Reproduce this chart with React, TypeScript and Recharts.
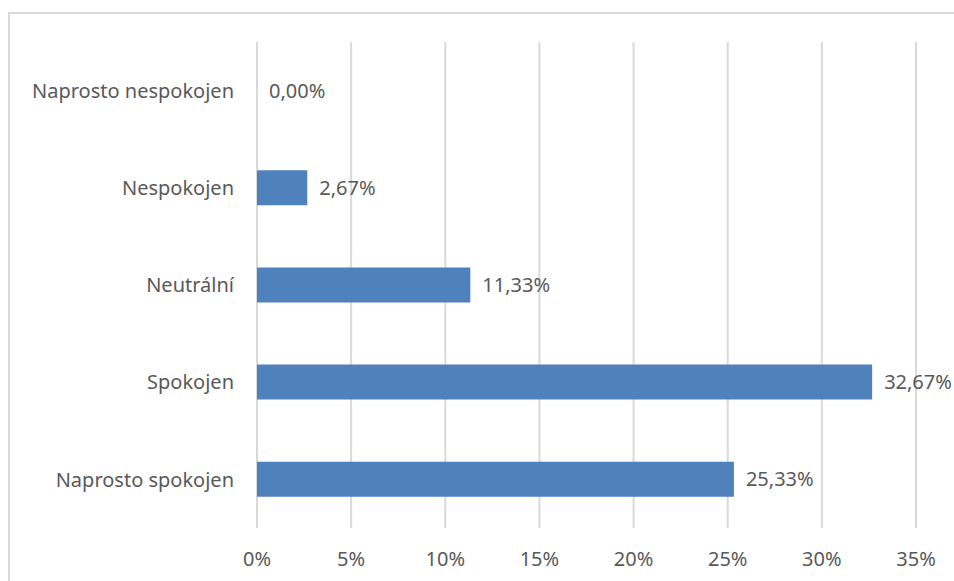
import { BarChart, Bar, XAxis, YAxis, CartesianGrid, LabelList } from "recharts";

const categories = [
  "Naprosto nespokojen",
  "Nespokojen",
  "Neutrální",
  "Spokojen",
  "Naprosto spokojen",
];
const shares = [0, 2.67, 11.33, 32.67, 25.33];
const xTicks = [0, 5, 10, 15, 20, 25, 30, 35];

const data = categories.map((name, i) => ({ name, value: shares[i] }));

const FONT = "Noto Sans, sans-serif";
const TEXT = "#595959";
const SIZE = 20;

function fmtLabel(v: number) {
  return v.toFixed(2).replace(".", ",") + "%";
}

function ValueLabel(props: any) {
  const { x, y, width, height, value } = props;
  const px = Number(x) + Math.max(Number(width || 0), 0) + 12;
  const py = Number(y) + Number(height) / 2;
  return (
    <text
      x={px}
      y={py}
      dy="0.35em"
      textAnchor="start"
      fill={TEXT}
      fontSize={SIZE}
      fontFamily={FONT}
    >
      {fmtLabel(Number(value))}
    </text>
  );
}

export default function App() {
  return (
    <div
      style={{
        position: "fixed",
        left: 0,
        top: 0,
        width: 954,
        height: 581,
        overflow: "hidden",
        background: "#fff",
      }}
    >
      <div
        style={{
          position: "absolute",
          left: 8,
          top: 12,
          width: 946,
          height: 569,
          borderTop: "2px solid #d9d9d9",
          borderLeft: "2px solid #d9d9d9",
          boxSizing: "border-box",
        }}
      />
      <div style={{ position: "absolute", left: 0, top: 0 }}>
        <BarChart
          width={954}
          height={581}
          data={data}
          layout="vertical"
          margin={{ top: 42, right: 38, left: 0, bottom: 0 }}
          barSize={35}
        >
          <CartesianGrid horizontal={false} stroke="#d9d9d9" strokeWidth={2} />
          <XAxis
            type="number"
            domain={[0, 35]}
            ticks={xTicks}
            interval={0}
            tickFormatter={(v) => `${v}%`}
            axisLine={false}
            tickLine={false}
            tickSize={0}
            tickMargin={24}
            height={53}
            tick={{ fill: TEXT, fontSize: SIZE, fontFamily: FONT }}
          />
          <YAxis
            type="category"
            dataKey="name"
            width={257}
            axisLine={false}
            tickLine={false}
            tickSize={0}
            tickMargin={23}
            tick={{ fill: TEXT, fontSize: SIZE, fontFamily: FONT }}
          />
          <Bar dataKey="value" fill="#4f81bd" minPointSize={0.01} isAnimationActive={false}>
            <LabelList dataKey="value" content={<ValueLabel />} />
          </Bar>
        </BarChart>
      </div>
    </div>
  );
}
